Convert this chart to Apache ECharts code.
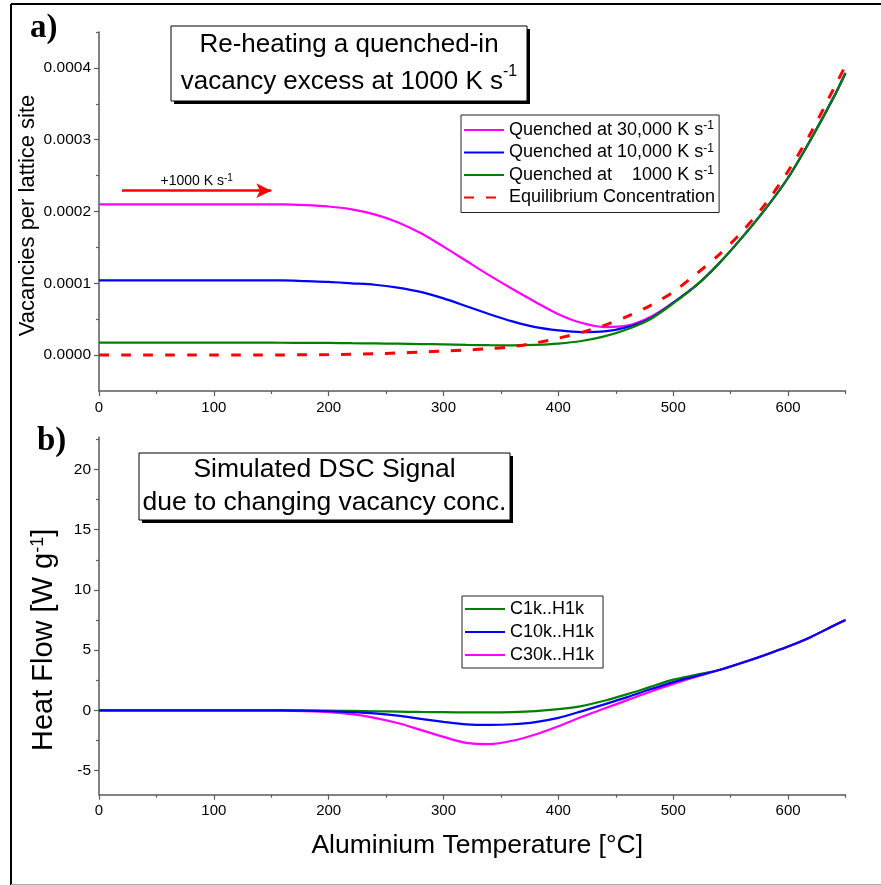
<!DOCTYPE html>
<html><head><meta charset="utf-8">
<script src="https://cdn.jsdelivr.net/npm/echarts@6/dist/echarts.min.js"></script>
<style>html,body{margin:0;padding:0;background:#fff}#c{width:881px;height:885px}</style>
</head><body><div id="c"></div>
<script>
// ---------- data ----------
const TEMP = [0, 20, 40, 60, 80, 100, 120, 140, 160, 180, 200, 220, 240, 260, 280, 300, 320, 340, 360, 380, 400, 420, 440, 460, 480, 500, 520, 540, 560, 580, 600, 620, 640, 650];

const VAC_Q30K = [0.000210, 0.000210, 0.000210, 0.000210, 0.000210, 0.000210, 0.000210, 0.000210, 0.000210, 0.000209, 0.000207, 0.000203, 0.000196, 0.000185, 0.000170, 0.000151, 0.000131, 0.000111, 0.000092, 0.000074, 0.000057, 0.000045, 0.000039, 0.000041, 0.000053, 0.000073, 0.000097, 0.000128, 0.000164, 0.000203, 0.000247, 0.000301, 0.000360, 0.000393];
const VAC_Q10K = [0.000104, 0.000104, 0.000104, 0.000104, 0.000104, 0.000104, 0.000104, 0.000104, 0.000104, 0.000103, 0.000102, 0.000100, 0.000098, 0.000094, 0.000088, 0.000079, 0.000068, 0.000057, 0.000047, 0.000039, 0.0000345, 0.000032, 0.000033, 0.000039, 0.000051, 0.000073, 0.000097, 0.000128, 0.000164, 0.000203, 0.000247, 0.000301, 0.000360, 0.000393];
const VAC_Q1K  = [0.0000175, 0.0000175, 0.0000175, 0.0000175, 0.0000175, 0.0000175, 0.0000174, 0.0000173, 0.0000172, 0.0000171, 0.0000169, 0.0000166, 0.0000163, 0.0000159, 0.0000154, 0.0000149, 0.0000143, 0.0000138, 0.0000136, 0.0000142, 0.0000160, 0.0000196, 0.0000260, 0.0000360, 0.0000500, 0.0000720, 0.000097, 0.000128, 0.000164, 0.000203, 0.000247, 0.000301, 0.000360, 0.000393];
const VAC_EQ   = [0, 0, 0, 0, 0, 0, 0, 0.0000001, 0.0000002, 0.0000004, 0.0000007, 0.0000012, 0.0000019, 0.0000029, 0.0000042, 0.0000056, 0.0000071, 0.0000090, 0.0000118, 0.0000170, 0.0000235, 0.0000315, 0.0000415, 0.0000540, 0.0000690, 0.0000880, 0.000113, 0.000140, 0.000172, 0.000210, 0.000256, 0.000310, 0.000372, 0.000403];

const HF_C1K  = [0, 0, 0, 0, 0, 0, 0, 0, 0, 0, -0.02, -0.04, -0.07, -0.10, -0.13, -0.15, -0.17, -0.17, -0.14, -0.06, 0.10, 0.35, 0.80, 1.35, 1.95, 2.55, 2.95, 3.35, 3.95, 4.60, 5.30, 6.10, 7.05, 7.50];
const HF_C10K = [0, 0, 0, 0, 0, 0, 0, 0, 0, -0.03, -0.07, -0.14, -0.25, -0.44, -0.70, -0.95, -1.16, -1.21, -1.15, -0.97, -0.62, -0.08, 0.50, 1.10, 1.75, 2.35, 2.85, 3.35, 3.95, 4.60, 5.30, 6.10, 7.05, 7.50];
const HF_C30K = [0, 0, 0, 0, 0, 0, 0, 0, -0.02, -0.06, -0.14, -0.31, -0.62, -1.05, -1.62, -2.20, -2.70, -2.80, -2.52, -2.00, -1.32, -0.55, 0.15, 0.85, 1.55, 2.20, 2.80, 3.35, 3.95, 4.60, 5.30, 6.10, 7.05, 7.50];

const NAMES_TOP = ['Quenched at 30,000 K s-1', 'Quenched at 10,000 K s-1', 'Quenched at    1000 K s-1', 'Equilibrium Concentration'];
const NAMES_BOT = ['C1k..H1k', 'C10k..H1k', 'C30k..H1k'];

const X_MAJOR = [0, 100, 200, 300, 400, 500, 600];
const X_MINOR = [50, 150, 250, 350, 450, 550, 650];
const Y_TOP_MAJOR = [0, 0.0001, 0.0002, 0.0003, 0.0004];
const Y_TOP_MINOR = [0.00005, 0.00015, 0.00025, 0.00035, 0.00045];
const Y_BOT_MAJOR = [-5, 0, 5, 10, 15, 20];
const Y_BOT_MINOR = [-2.5, 2.5, 7.5, 12.5, 17.5, 22.5];

const ARROW_T = [20, 150];
const ARROW_V = 0.000229;

// ---------- helpers ----------
const FONT = "'Liberation Sans', Arial, sans-serif";
const AX = '#5a5a5a';
const pairs = (xs, ys) => xs.map((x, i) => [x, ys[i]]);
const supRich = (fs) => ({ sup: { fontSize: fs, fontFamily: FONT, color: '#000', verticalAlign: 'top', lineHeight: fs } });

function xMain(grid, min, max, extra) {
  return Object.assign({
    type: 'value', gridIndex: grid, min: min, max: max, position: 'bottom',
    axisLine: { show: true, onZero: false, lineStyle: { color: AX, width: 1.5 } },
    axisTick: { show: true, inside: false, length: 5, customValues: X_MAJOR, lineStyle: { color: AX, width: 1.2 } },
    axisLabel: { show: true, customValues: X_MAJOR, color: '#000', fontSize: 15, fontFamily: FONT, margin: 9 },
    splitLine: { show: false }, minorTick: { show: false }
  }, extra || {});
}
function xMinor(grid, min, max) {
  return {
    type: 'value', gridIndex: grid, min: min, max: max, position: 'bottom',
    axisLine: { show: false, onZero: false },
    axisTick: { show: true, inside: false, length: 3, customValues: X_MINOR, lineStyle: { color: AX, width: 1.2 } },
    axisLabel: { show: false }, splitLine: { show: false }
  };
}
function yMain(grid, min, max, major, fmt, extra) {
  return Object.assign({
    type: 'value', gridIndex: grid, min: min, max: max, position: 'left',
    axisLine: { show: true, onZero: false, lineStyle: { color: AX, width: 1.5 } },
    axisTick: { show: true, inside: false, length: 5, customValues: major, lineStyle: { color: AX, width: 1.2 } },
    axisLabel: { show: true, customValues: major, color: '#000', fontSize: 15.5, fontFamily: FONT, margin: 8, formatter: fmt },
    splitLine: { show: false }
  }, extra || {});
}
function yMinor(grid, min, max, minor) {
  return {
    type: 'value', gridIndex: grid, min: min, max: max, position: 'left',
    axisLine: { show: false, onZero: false },
    axisTick: { show: true, inside: false, length: 3, customValues: minor, lineStyle: { color: AX, width: 1.2 } },
    axisLabel: { show: false }, splitLine: { show: false }
  };
}
function lineSeries(name, xs, ys, color, xi, yi, extra) {
  return Object.assign({
    type: 'line', name: name, xAxisIndex: xi, yAxisIndex: yi,
    data: pairs(xs, ys), symbol: 'none', showSymbol: false, smooth: 0.3,
    lineStyle: { color: color, width: 2.2 }, itemStyle: { color: color },
    emphasis: { disabled: true }, silent: true
  }, extra || {});
}
const legendFmt = (n) => n.replace(/s-1$/, 's{sup|-1}');

function textBox(x, y, w, h, text, fs, lh, rich) {
  return [
    { type: 'rect', z: 10, silent: true, shape: { x: x + 3, y: y + 3, width: w, height: h }, style: { fill: '#000' } },
    { type: 'rect', z: 11, silent: true, shape: { x: x, y: y, width: w, height: h }, style: { fill: '#fff', stroke: '#000', lineWidth: 1 } },
    { type: 'text', z: 12, silent: true, x: x + w / 2, y: y + h / 2, style: {
      text: text, fontSize: fs, fontFamily: FONT, fill: '#000', align: 'center', verticalAlign: 'middle', lineHeight: lh, rich: rich || {} } }
  ];
}

// ---------- chart ----------
const chart = echarts.init(document.getElementById('c'), null, { renderer: 'canvas' });
chart.setOption({
  animation: false,
  backgroundColor: '#fff',
  grid: [
    { left: 99, top: 32, width: 746.5, height: 359 },
    { left: 99, top: 437, width: 746.5, height: 357.7 }
  ],
  xAxis: [
    xMain(0, 0, 650),
    xMinor(0, 0, 650),
    xMain(1, 0, 650, {
      name: 'Aluminium Temperature [°C]', nameLocation: 'middle', nameGap: 37,
      nameTextStyle: { fontSize: 26.5, fontFamily: FONT, color: '#000', padding: [0, 0, 0, 10] }
    }),
    xMinor(1, 0, 650)
  ],
  yAxis: [
    yMain(0, -0.00005, 0.00045, Y_TOP_MAJOR, (v) => v.toFixed(4), {
      name: 'Vacancies per lattice site', nameLocation: 'middle', nameGap: 60, nameMoveOverlap: false,
      nameTextStyle: { fontSize: 22, fontFamily: FONT, color: '#000', padding: [0, 8, 0, 0] }
    }),
    yMinor(0, -0.00005, 0.00045, Y_TOP_MINOR),
    yMain(1, -7, 22.7, Y_BOT_MAJOR, (v) => String(v), {
      name: 'Heat Flow [W g{sup|-1}]', nameLocation: 'middle', nameGap: 41,
      nameTextStyle: { fontSize: 29, fontFamily: FONT, color: '#000', padding: [0, 48, 0, 0], rich: supRich(18) }
    }),
    yMinor(1, -7, 22.7, Y_BOT_MINOR)
  ],
  legend: [
    {
      data: NAMES_TOP, orient: 'vertical', left: 461, top: 115, selectedMode: false,
      itemWidth: 40, itemHeight: 12, itemGap: 2.5, padding: [5, 4, 5, 2],
      borderColor: '#222', borderWidth: 1, backgroundColor: '#fff',
      itemStyle: { opacity: 0, borderWidth: 0 },
      formatter: legendFmt,
      textStyle: { fontSize: 18, fontFamily: FONT, color: '#000', lineHeight: 20, rich: supRich(12) }
    },
    {
      data: NAMES_BOT, orient: 'vertical', left: 462, top: 596, selectedMode: false,
      itemWidth: 40, itemHeight: 12, itemGap: 3, padding: [3, 9, 3, 2],
      borderColor: '#222', borderWidth: 1, backgroundColor: '#fff',
      itemStyle: { opacity: 0, borderWidth: 0 },
      textStyle: { fontSize: 18, fontFamily: FONT, color: '#000', lineHeight: 20 }
    }
  ],
  series: [
    lineSeries(NAMES_TOP[0], TEMP, VAC_Q30K, '#ff00ff', 0, 0, {
      z: 2,
      markLine: {
        silent: true, symbol: ['none', 'arrow'], symbolSize: [11, 15],
        lineStyle: { color: '#ff0000', width: 2.5, type: 'solid' },
        emphasis: { disabled: true },
        label: { show: true, position: 'middle', distance: 3, formatter: '+1000 K s{sup|-1}', color: '#000', fontSize: 14, fontFamily: FONT, rich: supRich(10) },
        data: [[{ coord: [ARROW_T[0], ARROW_V] }, { coord: [ARROW_T[1], ARROW_V] }]]
      }
    }),
    lineSeries(NAMES_TOP[1], TEMP, VAC_Q10K, '#0000ff', 0, 0, { z: 3 }),
    lineSeries(NAMES_TOP[2], TEMP, VAC_Q1K, '#008000', 0, 0, { z: 4 }),
    lineSeries(NAMES_TOP[3], TEMP, VAC_EQ, '#ff0000', 0, 0, { z: 5, lineStyle: { color: '#ff0000', width: 3, type: [10, 12] } }),
    lineSeries(NAMES_BOT[0], TEMP, HF_C1K, '#008000', 2, 2, { z: 2 }),
    lineSeries(NAMES_BOT[1], TEMP, HF_C10K, '#0000ff', 2, 2, { z: 4 }),
    lineSeries(NAMES_BOT[2], TEMP, HF_C30K, '#ff00ff', 2, 2, { z: 3 })
  ],
  graphic: [
    { type: 'line', shape: { x1: 11, y1: 4, x2: 11, y2: 885 }, style: { stroke: '#000', lineWidth: 2 }, silent: true },
    { type: 'line', shape: { x1: 11, y1: 4, x2: 881, y2: 4 }, style: { stroke: '#000', lineWidth: 2 }, silent: true },
    { type: 'line', shape: { x1: 11, y1: 884.5, x2: 881, y2: 884.5 }, style: { stroke: '#aaa', lineWidth: 1 }, silent: true },
    { type: 'text', x: 30, y: 28, style: { text: 'a)', font: "bold 33px 'Liberation Serif', 'Times New Roman', serif", fill: '#000', align: 'left', verticalAlign: 'middle' }, silent: true },
    { type: 'text', x: 37, y: 441, style: { text: 'b)', font: "bold 33px 'Liberation Serif', 'Times New Roman', serif", fill: '#000', align: 'left', verticalAlign: 'middle' }, silent: true }
  ].concat(
    textBox(171, 26, 356, 75, 'Re-heating a quenched-in\nvacancy excess at 1000 K s{sup|-1}', 26, 37,
      { sup: { fontSize: 16, fontFamily: FONT, fill: '#000', verticalAlign: 'top', lineHeight: 16 } }),
    textBox(139, 453, 371, 67, 'Simulated DSC Signal\ndue to changing vacancy conc.', 26.5, 33)
  )
});
</script></body></html>
